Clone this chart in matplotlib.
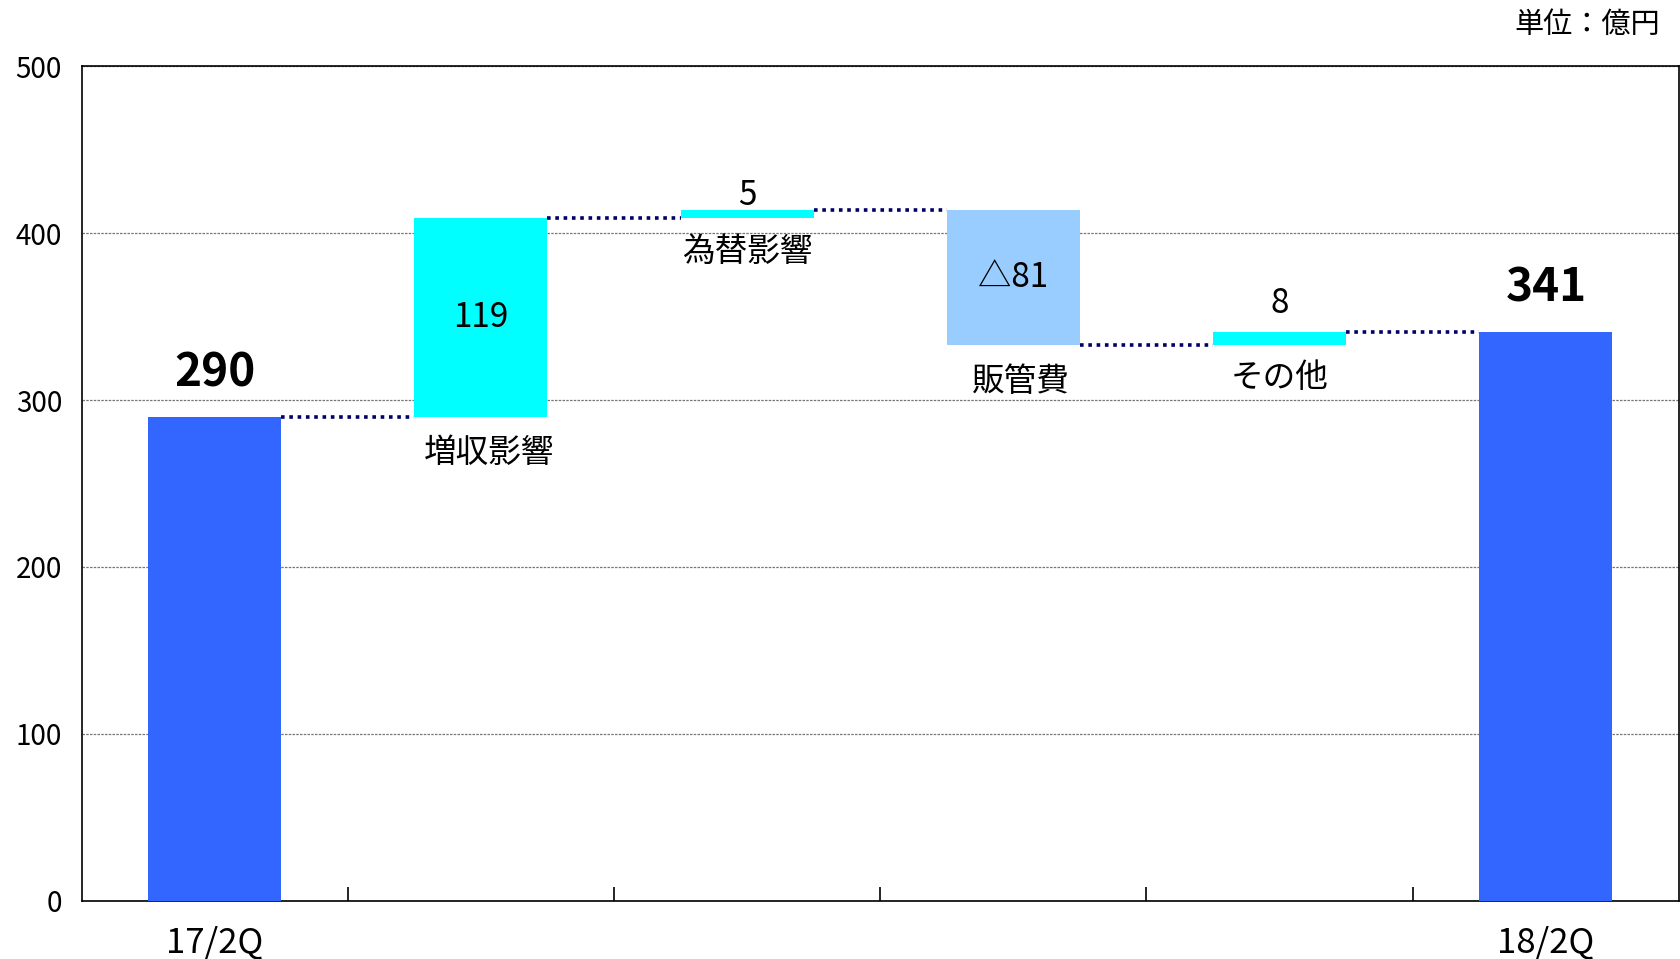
import matplotlib
matplotlib.use("Agg")
import matplotlib.pyplot as plt

plt.rcParams['font.family'] = ['Noto Sans CJK JP', 'DejaVu Sans']

# data (億円)
categories = ['17/2Q', '増収影響', '為替影響', '販管費', 'その他', '18/2Q']
changes = [290, 119, 5, -81, 8, 341]
kinds = ['total', 'up', 'up', 'down', 'up', 'total']
value_labels = ['290', '119', '5', '△81', '8', '341']

COLORS = {'total': '#3366FF', 'up': '#00FFFF', 'down': '#99CCFF'}
LINE_COLOR = '#000066'

# work out bottoms / heights for the waterfall
bottoms = []
heights = []
levels = []
running = 0
for c, k in zip(changes, kinds):
    if k == 'total':
        bottoms.append(0)
        heights.append(c)
        running = c
    else:
        new = running + c
        bottoms.append(min(running, new))
        heights.append(abs(c))
        running = new
    levels.append(running)

fig = plt.figure(figsize=(16.81, 9.59), dpi=100)
ax = fig.add_axes([0.0485, 0.061, 0.9503, 0.8697])

x = list(range(len(categories)))
width = 0.5
ax.bar(x, heights, width, bottom=bottoms,
       color=[COLORS[k] for k in kinds], zorder=3)

# dotted connectors between bars
for i in range(len(x) - 1):
    ax.plot([x[i] + width / 2, x[i + 1] - width / 2], [levels[i], levels[i]],
            color=LINE_COLOR, lw=2.6, linestyle=(0, (1, 1.3)), zorder=4,
            solid_capstyle='butt', dash_capstyle='butt')

# value labels
for i, k in enumerate(kinds):
    top = bottoms[i] + heights[i]
    bot = bottoms[i]
    if k == 'total':
        ax.text(x[i], top + 18, value_labels[i], ha='center', va='baseline',
                fontsize=33, fontweight='bold')
    elif heights[i] > 30:
        ax.text(x[i], (top + bot) / 2, value_labels[i], ha='center',
                va='center', fontsize=24)
        ax.text(x[i] + 0.03, bot - 22, categories[i], ha='center',
                va='center', fontsize=23.5)
    else:
        off = 3 if i == 2 else 11
        ax.text(x[i], top + off, value_labels[i], ha='center', va='baseline',
                fontsize=24)
        ax.text(x[i], bot - 20, categories[i], ha='center', va='center',
                fontsize=23.5)

ax.set_xlim(-0.5, len(x) - 0.5)
ax.set_ylim(0, 500)
ax.set_yticks([0, 100, 200, 300, 400, 500])
ax.yaxis.grid(True, color='#777777', linestyle=(0, (2, 1)), lw=0.9, zorder=0)
ax.tick_params(axis='y', length=0, pad=14, labelsize=20)

ax.set_xticks(x)
ax.set_xticklabels([c if k == 'total' else '' for c, k in zip(categories, kinds)])
ax.tick_params(axis='x', which='major', length=0, pad=18, labelsize=25)
ax.set_xticks([i + 0.5 for i in x[:-1]], minor=True)
ax.tick_params(axis='x', which='minor', direction='in', length=10, width=1.2)

for s in ax.spines.values():
    s.set_linewidth(1.2)

fig.text(0.9875, 0.974, '単位：億円', ha='right', va='center', fontsize=21)

fig.savefig('out.png', dpi=100)
